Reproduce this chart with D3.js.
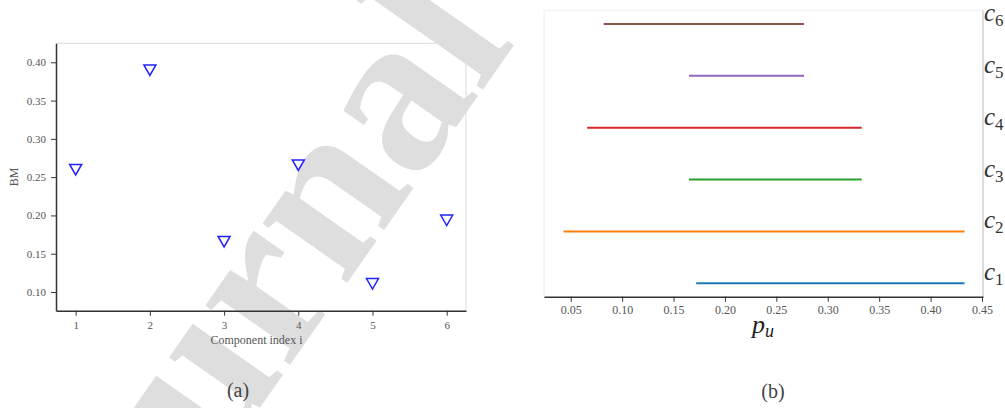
<!DOCTYPE html>
<html>
<head>
<meta charset="utf-8">
<script src="https://cdn.jsdelivr.net/npm/d3@7"></script>
<style>
  body { margin: 0; background: #fff; }
  svg { display: block; font-family: "Liberation Serif", "DejaVu Serif", serif; }
</style>
</head>
<body>
<div id="chart"></div>
<script>
// (a) BM per component
const componentIdx = [1, 2, 3, 4, 5, 6];
const bmValues = [0.260, 0.390, 0.166, 0.266, 0.111, 0.194];
const bmTicks = [0.10, 0.15, 0.20, 0.25, 0.30, 0.35, 0.40];

// (b) p_u intervals per component
const compLabels = ["1", "2", "3", "4", "5", "6"];
const puLow = [0.172, 0.043, 0.165, 0.066, 0.165, 0.082];
const puHigh = [0.433, 0.433, 0.333, 0.333, 0.277, 0.277];
const puTicks = [0.05, 0.10, 0.15, 0.20, 0.25, 0.30, 0.35, 0.40, 0.45];
const lineColors = ["#1f77b4", "#ff7f0e", "#2ca02c", "#d62728", "#9467bd", "#8c564b"];

const width = 1005, height = 408;

const svg = d3.select("#chart").append("svg")
  .attr("width", width)
  .attr("height", height);

// watermark
svg.append("text")
  .attr("transform", "translate(516,42) rotate(-55)")
  .attr("text-anchor", "end")
  .style("font-family", "Liberation Serif, serif")
  .style("font-weight", "bold")
  .style("font-size", "225px")
  .attr("fill", "#dedede")
  .text("Journal");

// ---------- panel (a) ----------
const xA = d3.scaleLinear().domain([0.735, 6.26]).range([56, 466]);
const yA = d3.scaleLinear().domain([0.0756, 0.4248]).range([310.7, 43.3]);

// light top/right spines
svg.append("path")
  .attr("d", `M${xA.range()[0]},${yA.range()[1]}H${xA.range()[1]}V${yA.range()[0]}`)
  .attr("fill", "none")
  .attr("stroke", "#dddddd")
  .attr("stroke-width", 1);

const axA_x = svg.append("g")
  .attr("transform", `translate(0,${yA.range()[0]})`)
  .call(d3.axisBottom(xA).tickValues(componentIdx).tickFormat(d3.format("d")).tickSize(5).tickPadding(5.5).tickSizeOuter(0));

const axA_y = svg.append("g")
  .attr("transform", `translate(${xA.range()[0]},0)`)
  .call(d3.axisLeft(yA).tickValues(bmTicks).tickFormat(d3.format(".2f")).tickSize(5).tickPadding(5).tickSizeOuter(0));

[axA_x, axA_y].forEach(g => {
  g.select(".domain").attr("stroke", "#333").attr("stroke-width", 1.5);
  g.selectAll(".tick line").attr("stroke", "#333");
  g.selectAll(".tick text")
    .attr("fill", "#555")
    .style("font-family", "Liberation Serif, serif")
    .style("font-size", "11px");
});

svg.append("g").selectAll("path")
  .data(componentIdx)
  .enter()
  .append("path")
  .attr("d", (d, i) => {
    const cx = xA(d), cy = yA(bmValues[i]);
    return `M${cx - 6},${cy - 5}L${cx + 6},${cy - 5}L${cx},${cy + 5.5}Z`;
  })
  .attr("fill", "none")
  .attr("stroke", "#2222ff")
  .attr("stroke-width", 1.5)
  .attr("stroke-linejoin", "miter");

svg.append("text")
  .attr("x", 256.5)
  .attr("y", 344)
  .attr("text-anchor", "middle")
  .attr("fill", "#555")
  .style("font-size", "12px")
  .text("Component index i");

svg.append("text")
  .attr("transform", "translate(18,177) rotate(-90)")
  .attr("text-anchor", "middle")
  .attr("fill", "#555")
  .style("font-size", "12px")
  .text("BM");

svg.append("text")
  .attr("x", 238)
  .attr("y", 397)
  .attr("text-anchor", "middle")
  .attr("fill", "#444")
  .style("font-size", "20px")
  .text("(a)");

// ---------- panel (b) ----------
const xB = d3.scaleLinear().domain([0.024, 0.451]).range([544, 983]);
const yB = d3.scaleLinear().domain([0.742, 6.264]).range([296.7, 10.3]);

svg.append("path")
  .attr("d", `M${xB.range()[0]},${yB.range()[0]}V${yB.range()[1]}H${xB.range()[1]}`)
  .attr("fill", "none")
  .attr("stroke", "#eeeeee")
  .attr("stroke-width", 1);

svg.append("line")
  .attr("x1", xB.range()[1]).attr("x2", xB.range()[1])
  .attr("y1", yB.range()[1]).attr("y2", yB.range()[0])
  .attr("stroke", "#bbbbbb")
  .attr("stroke-width", 1);

const axB_x = svg.append("g")
  .attr("transform", `translate(0,${yB.range()[0]})`)
  .call(d3.axisBottom(xB).tickValues(puTicks).tickFormat(d3.format(".2f")).tickSize(5).tickPadding(4).tickSizeOuter(0));

axB_x.select(".domain").attr("stroke", "#333").attr("stroke-width", 1.5);
axB_x.selectAll(".tick line").attr("stroke", "#333");
axB_x.selectAll(".tick text")
  .attr("fill", "#555")
  .style("font-family", "Liberation Serif, serif")
  .style("font-size", "12px");

svg.append("g").selectAll("line")
  .data(compLabels)
  .enter()
  .append("line")
  .attr("x1", (d, i) => xB(puLow[i]))
  .attr("x2", (d, i) => xB(puHigh[i]))
  .attr("y1", (d, i) => yB(i + 1))
  .attr("y2", (d, i) => yB(i + 1))
  .attr("stroke", (d, i) => lineColors[i])
  .attr("stroke-width", 2);

// c_i labels on the right
const cLab = svg.append("g").selectAll("text")
  .data(compLabels)
  .enter()
  .append("text")
  .attr("x", xB.range()[1] + 1)
  .attr("y", (d, i) => yB(i + 1) - 3)
  .attr("fill", "#333");

cLab.append("tspan")
  .style("font-style", "italic")
  .style("font-size", "25px")
  .text("c");
cLab.append("tspan")
  .attr("dy", 5)
  .style("font-size", "17px")
  .text(d => d);

const pu = svg.append("text")
  .attr("x", 752)
  .attr("y", 333)
  .attr("fill", "#222");
pu.append("tspan")
  .style("font-style", "italic")
  .style("font-size", "26px")
  .text("p");
pu.append("tspan")
  .attr("dy", 4)
  .style("font-style", "italic")
  .style("font-size", "18px")
  .text("u");

svg.append("text")
  .attr("x", 773)
  .attr("y", 398)
  .attr("text-anchor", "middle")
  .attr("fill", "#444")
  .style("font-size", "20px")
  .text("(b)");
</script>
</body>
</html>
